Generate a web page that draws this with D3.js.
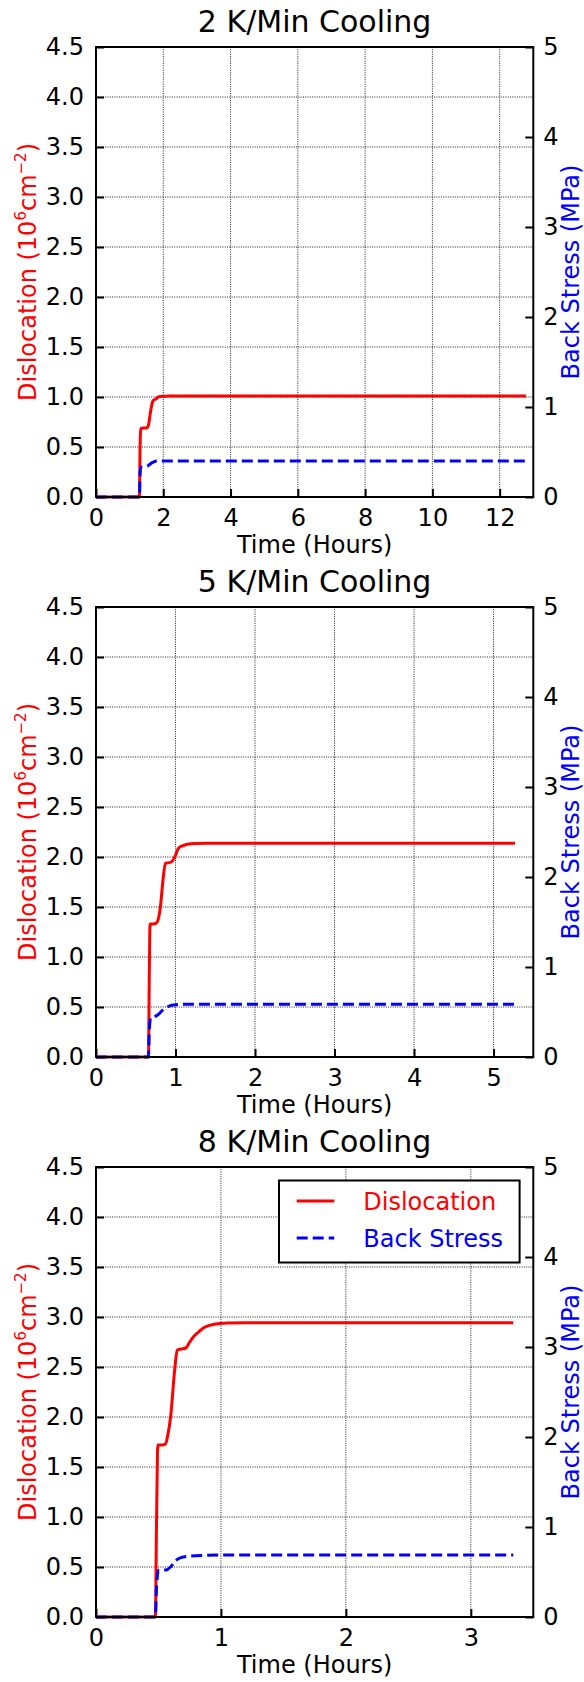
<!DOCTYPE html>
<html>
<head>
<meta charset="utf-8">
<script src="https://cdn.jsdelivr.net/npm/d3@7"></script>
<style>
  body { margin: 0; background: #fff; }
  text { font-family: "DejaVu Sans", sans-serif; }
</style>
</head>
<body>
<div class="chart"></div>
<script>
// panel titles and axis settings
var titles = ["2 K/Min Cooling", "5 K/Min Cooling", "8 K/Min Cooling"];
var timeMax = [13, 5.5, 3.5];
var timeTicks = [[0, 2, 4, 6, 8, 10, 12], [0, 1, 2, 3, 4, 5], [0, 1, 2, 3]];
var dislocationTicks = [0, 0.5, 1, 1.5, 2, 2.5, 3, 3.5, 4, 4.5];
var stressTicks = [0, 1, 2, 3, 4, 5];

// 2 K/min  (hours, 10^6 cm^-2 / MPa)
var disTime1 = [0, 1.29, 1.31, 1.33, 1.40, 1.50, 1.56, 1.62, 1.68, 1.72, 1.78, 1.85, 1.95, 2.2, 12.78];
var disVal1  = [0, 0, 0.5, 0.68, 0.69, 0.69, 0.72, 0.85, 0.95, 0.97, 0.98, 1.0, 1.005, 1.01, 1.01];
var bsTime1  = [0, 1.29, 1.31, 1.33, 1.45, 1.52, 1.62, 1.72, 1.85, 2.2, 12.78];
var bsVal1   = [0, 0, 0.25, 0.333, 0.335, 0.34, 0.37, 0.39, 0.40, 0.40, 0.40];

// 5 K/min
var disTime2 = [0, 0.66, 0.67, 0.68, 0.72, 0.76, 0.79, 0.81, 0.84, 0.873, 0.90, 0.945, 0.97, 0.99, 1.04, 1.1, 1.15, 1.25, 1.4, 5.27];
var disVal2  = [0, 0, 0.8, 1.33, 1.33, 1.34, 1.40, 1.5, 1.75, 1.937, 1.94, 1.95, 1.97, 2.0, 2.09, 2.115, 2.127, 2.135, 2.138, 2.138];
var bsTime2  = [0, 0.66, 0.67, 0.69, 0.73, 0.78, 0.85, 0.92, 0.98, 1.05, 1.2, 5.27];
var bsVal2   = [0, 0, 0.3, 0.438, 0.445, 0.47, 0.53, 0.565, 0.578, 0.585, 0.586, 0.586];

// 8 K/min
var disTime3 = [0, 0.475, 0.485, 0.495, 0.53, 0.556, 0.575, 0.597, 0.632, 0.65, 0.68, 0.718, 0.75, 0.785, 0.83, 0.865, 0.946, 1.05, 1.2, 3.34];
var disVal3  = [0, 0, 1.0, 1.72, 1.72, 1.73, 1.82, 2.0, 2.5, 2.67, 2.68, 2.69, 2.75, 2.81, 2.86, 2.894, 2.927, 2.94, 2.943, 2.943];
var bsTime3  = [0, 0.475, 0.485, 0.50, 0.56, 0.60, 0.64, 0.68, 0.75, 0.85, 1.0, 3.34];
var bsVal3   = [0, 0, 0.35, 0.519, 0.522, 0.56, 0.63, 0.66, 0.675, 0.684, 0.688, 0.688];

var legendLabels = ["Dislocation", "Back Stress"];

var panels = [
  { dis: d3.zip(disTime1, disVal1), bs: d3.zip(bsTime1, bsVal1) },
  { dis: d3.zip(disTime2, disVal2), bs: d3.zip(bsTime2, bsVal2) },
  { dis: d3.zip(disTime3, disVal3), bs: d3.zip(bsTime3, bsVal3) }
];

var svgWidth = 584, svgHeight = 1682;
var left = 96, plotW = 437.3, plotH = 450;
var red = "#ff0000", blue = "#0000ff";

var svg = d3.select(".chart").append("svg")
  .attr("width", svgWidth)
  .attr("height", svgHeight);

panels.forEach(function(p, i) {
  var top = 47 + i * 560;
  var g = svg.append("g").attr("transform", `translate(${left}, ${top})`);

  var x = d3.scaleLinear().domain([0, timeMax[i]]).range([0, plotW]);
  var yL = d3.scaleLinear().domain([0, 4.5]).range([plotH, 0]);
  var yR = d3.scaleLinear().domain([0, 5]).range([plotH, 0]);

  // dotted grid
  var grid = g.append("g")
    .attr("stroke", "#222")
    .attr("stroke-width", 1)
    .attr("stroke-dasharray", "1,1.3");
  grid.selectAll("line.v").data(timeTicks[i]).enter().append("line")
    .attr("x1", d => x(d)).attr("x2", d => x(d))
    .attr("y1", 0).attr("y2", plotH);
  grid.selectAll("line.h").data(dislocationTicks).enter().append("line")
    .attr("x1", 0).attr("x2", plotW)
    .attr("y1", d => yL(d)).attr("y2", d => yL(d));

  // axes (ticks pointing inward)
  var xAxis = d3.axisBottom(x).tickValues(timeTicks[i]).tickFormat(d3.format("d"))
    .tickSizeInner(-8).tickSizeOuter(0).tickPadding(12);
  var yAxisL = d3.axisLeft(yL).tickValues(dislocationTicks).tickFormat(d3.format(".1f"))
    .tickSizeInner(-8).tickSizeOuter(0).tickPadding(12);
  var yAxisR = d3.axisRight(yR).tickValues(stressTicks).tickFormat(d3.format("d"))
    .tickSizeInner(-8).tickSizeOuter(0).tickPadding(10);

  var axes = [
    g.append("g").attr("transform", `translate(0, ${plotH})`).call(xAxis),
    g.append("g").call(yAxisL),
    g.append("g").attr("transform", `translate(${plotW}, 0)`).call(yAxisR)
  ];
  axes.forEach(function(a) {
    a.select(".domain").remove();
    a.selectAll(".tick line").attr("stroke", "#000").attr("stroke-width", 2);
    a.selectAll(".tick text")
      .attr("fill", "#000")
      .style("font-size", "24px")
      .style("font-family", "DejaVu Sans");
  });

  // data lines
  var disLine = d3.line()
    .x(d => x(d[0])).y(d => yL(d[1]))
    .curve(d3.curveMonotoneX);
  var bsLine = d3.line()
    .x(d => x(d[0])).y(d => yR(d[1]))
    .curve(d3.curveMonotoneX);

  g.append("path").datum(p.dis)
    .attr("d", disLine)
    .attr("fill", "none")
    .attr("stroke", red)
    .attr("stroke-width", 3);

  g.append("path").datum(p.bs)
    .attr("d", bsLine)
    .attr("fill", "none")
    .attr("stroke", blue)
    .attr("stroke-width", 3)
    .attr("stroke-dasharray", "11,5");

  // frame
  g.append("rect")
    .attr("width", plotW).attr("height", plotH)
    .attr("fill", "none")
    .attr("stroke", "#000")
    .attr("stroke-width", 2);

  // title
  g.append("text")
    .attr("x", plotW / 2).attr("y", -15)
    .attr("text-anchor", "middle")
    .style("font-size", "30px")
    .attr("fill", "#000")
    .text(titles[i]);

  // x label
  g.append("text")
    .attr("x", plotW / 2).attr("y", plotH + 56)
    .attr("text-anchor", "middle")
    .style("font-size", "24px")
    .attr("fill", "#000")
    .text("Time (Hours)");

  // left label with superscripts
  var yl = g.append("text")
    .attr("transform", `translate(${36 - left}, ${plotH / 2}) rotate(-90)`)
    .attr("text-anchor", "middle")
    .style("font-size", "24px")
    .attr("fill", red);
  yl.append("tspan").text("Dislocation (10");
  yl.append("tspan").attr("dy", -10).style("font-size", "15px").text("6");
  yl.append("tspan").attr("dy", 10).text("cm");
  yl.append("tspan").attr("dy", -10).style("font-size", "15px").text("\u22122");
  yl.append("tspan").attr("dy", 10).text(")");

  // right label
  g.append("text")
    .attr("transform", `translate(${579 - left}, ${plotH / 2}) rotate(-90)`)
    .attr("text-anchor", "middle")
    .style("font-size", "24px")
    .attr("fill", blue)
    .text("Back Stress (MPa)");

  // legend on the last panel
  if (i === 2) {
    var lg = g.append("g").attr("transform", "translate(183, 13.5)");
    lg.append("rect")
      .attr("width", 240.6).attr("height", 82)
      .attr("fill", "#fff")
      .attr("stroke", "#000")
      .attr("stroke-width", 2);
    var items = [
      { label: legendLabels[0], color: red, dash: null, y: 20.5 },
      { label: legendLabels[1], color: blue, dash: "11,5", y: 57.5 }
    ];
    items.forEach(function(it) {
      lg.append("line")
        .attr("x1", 17.7).attr("x2", 55.3)
        .attr("y1", it.y).attr("y2", it.y)
        .attr("stroke", it.color)
        .attr("stroke-width", 3)
        .attr("stroke-dasharray", it.dash);
      lg.append("text")
        .attr("x", 84.3).attr("y", it.y)
        .attr("dy", "0.36em")
        .style("font-size", "24px")
        .attr("fill", it.color)
        .text(it.label);
    });
  }
});
</script>
</body>
</html>
